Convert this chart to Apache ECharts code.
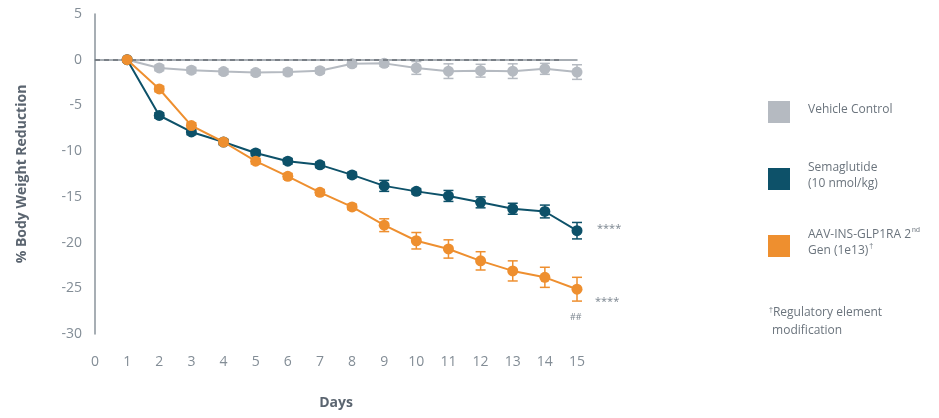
<!DOCTYPE html>
<html>
<head>
<meta charset="utf-8">
<script src="https://cdn.jsdelivr.net/npm/echarts@6/dist/echarts.min.js"></script>
<style>
  html, body { margin: 0; padding: 0; background: #fff; }
  #chart { width: 939px; height: 418px; }
</style>
</head>
<body>
<div id="chart"></div>
<script>
var days = [1, 2, 3, 4, 5, 6, 7, 8, 9, 10, 11, 12, 13, 14, 15];
var vehicle = [0, -0.9, -1.15, -1.3, -1.4, -1.35, -1.2, -0.45, -0.4, -0.9, -1.25, -1.2, -1.25, -1.0, -1.35];
var vehicleErr = [0, 0.3, 0.3, 0.3, 0.3, 0.3, 0.3, 0.3, 0.3, 0.7, 0.8, 0.7, 0.8, 0.6, 0.8];
var sema = [0, -6.1, -7.9, -9.0, -10.2, -11.1, -11.5, -12.6, -13.8, -14.4, -14.9, -15.6, -16.3, -16.6, -18.7];
var semaErr = [0, 0.3, 0.3, 0.3, 0.3, 0.3, 0.3, 0.3, 0.6, 0.3, 0.6, 0.6, 0.6, 0.7, 0.9];
var aav = [0, -3.2, -7.2, -9.0, -11.1, -12.75, -14.5, -16.1, -18.1, -19.8, -20.7, -22.0, -23.1, -23.8, -25.1];
var aavErr = [0, 0.3, 0.3, 0.2, 0.3, 0.3, 0.3, 0.3, 0.7, 0.9, 1.0, 1.0, 1.1, 1.1, 1.3];

var GRAY = '#b5bac1', TEAL = '#0d5169', ORANGE = '#ee8f2f';
var AXIS = '#8a939b', TXT = '#838d96';

var chart = echarts.init(document.getElementById('chart'));

function pts(vals) {
    return days.map(function (d, i) { return [d, vals[i]]; });
}
function errData(vals, errs) {
    return days.map(function (d, i) { return [d, vals[i] - errs[i], vals[i] + errs[i]]; });
}
function errSeries(vals, errs, color) {
    return {
        type: 'custom',
        silent: true,
        z: 1,
        data: errData(vals, errs),
        renderItem: function (params, api) {
            if (api.value(2) - api.value(1) < 0.05) return;
            var lo = api.coord([api.value(0), api.value(1)]);
            var hi = api.coord([api.value(0), api.value(2)]);
            var w = 5;
            var st = { stroke: color, lineWidth: 1.5 };
            return {
                type: 'group',
                children: [
                    { type: 'line', shape: { x1: lo[0], y1: lo[1], x2: hi[0], y2: hi[1] }, style: st },
                    { type: 'line', shape: { x1: lo[0] - w, y1: lo[1], x2: lo[0] + w, y2: lo[1] }, style: st },
                    { type: 'line', shape: { x1: hi[0] - w, y1: hi[1], x2: hi[0] + w, y2: hi[1] }, style: st }
                ]
            };
        }
    };
}
function lineSeries(name, vals, color, z) {
    return {
        name: name,
        type: 'line',
        z: z,
        data: pts(vals),
        symbol: 'circle',
        symbolSize: 11,
        lineStyle: { color: color, width: 2 },
        itemStyle: { color: color },
        animation: false
    };
}

var vehicleLine = lineSeries('Vehicle Control', vehicle, GRAY, 3);
vehicleLine.markLine = {
    silent: true,
    symbol: 'none',
    label: { show: false },
    lineStyle: { color: '#6b7278', type: [5, 4], width: 1.5 },
    data: [[{ coord: [0, 0] }, { coord: [14.5, 0] }]]
};

var option = {
    animation: false,
    textStyle: { fontFamily: 'Open Sans' },
    grid: { left: 95, right: 362, top: 14, bottom: 84 },
    xAxis: {
        type: 'value',
        min: 0, max: 15, interval: 1,
        name: 'Days',
        nameLocation: 'middle',
        nameGap: 62,
        nameTextStyle: { color: '#5b6570', fontSize: 14, fontWeight: 'bold' },
        axisLine: { lineStyle: { color: AXIS, width: 1.5 } },
        axisTick: { show: false },
        splitLine: { show: false },
        axisLabel: { color: TXT, fontSize: 14, margin: 21 }
    },
    yAxis: {
        type: 'value',
        min: -30, max: 5, interval: 5,
        name: '% Body Weight Reduction',
        nameLocation: 'middle',
        nameGap: 66,
        nameTextStyle: { color: '#5b6570', fontSize: 14, fontWeight: 'bold' },
        axisLine: { show: true, lineStyle: { color: AXIS, width: 1.5 } },
        axisTick: { show: false },
        splitLine: { show: false },
        axisLabel: { color: TXT, fontSize: 14, margin: 13 }
    },
    series: [
        errSeries(vehicle, vehicleErr, GRAY),
        errSeries(sema, semaErr, TEAL),
        errSeries(aav, aavErr, ORANGE),
        vehicleLine,
        lineSeries('Semaglutide (10 nmol/kg)', sema, TEAL, 4),
        lineSeries('AAV-INS-GLP1RA 2nd Gen (1e13)', aav, ORANGE, 5)
    ],
    graphic: [
        { type: 'text', left: 597, top: 223, style: { text: '****', fill: '#7b858f', font: '11px "Open Sans"' } },
        { type: 'text', left: 595, top: 296, style: { text: '****', fill: '#7b858f', font: '11px "Open Sans"' } },
        { type: 'text', left: 570, top: 313, style: { text: '##', fill: '#7b858f', font: '9px "Open Sans"' } },

        { type: 'rect', shape: { x: 768, y: 101, width: 22, height: 22 }, style: { fill: GRAY } },
        { type: 'text', left: 808, top: 104, style: { text: 'Vehicle Control', fill: '#6b747d', font: '12px "Open Sans"' } },

        { type: 'rect', shape: { x: 768, y: 168, width: 22, height: 22 }, style: { fill: TEAL } },
        { type: 'text', left: 808, top: 160, style: { text: 'Semaglutide\n(10 nmol/kg)', fill: '#6b747d', font: '12px "Open Sans"', lineHeight: 16 } },

        { type: 'rect', shape: { x: 768, y: 235, width: 22, height: 22 }, style: { fill: ORANGE } },
        { type: 'text', left: 808, top: 227, style: {
            text: 'AAV-INS-GLP1RA 2{sup|nd}\nGen (1e13){sup|†}',
            fill: '#6b747d', font: '12px "Open Sans"', lineHeight: 16,
            rich: { sup: { fontSize: 7, verticalAlign: 'top', padding: [0, 0, 6, 1], fill: '#6b747d' } }
        } },

        { type: 'text', left: 769, top: 304, style: {
            text: '{sup|†}Regulatory element\n modification',
            fill: '#6b747d', font: '12px "Open Sans"', lineHeight: 18,
            rich: { sup: { fontSize: 7, padding: [0, 0, 6, 0], fill: '#6b747d' } }
        } }
    ]
};
chart.setOption(option);
</script>
</body>
</html>
